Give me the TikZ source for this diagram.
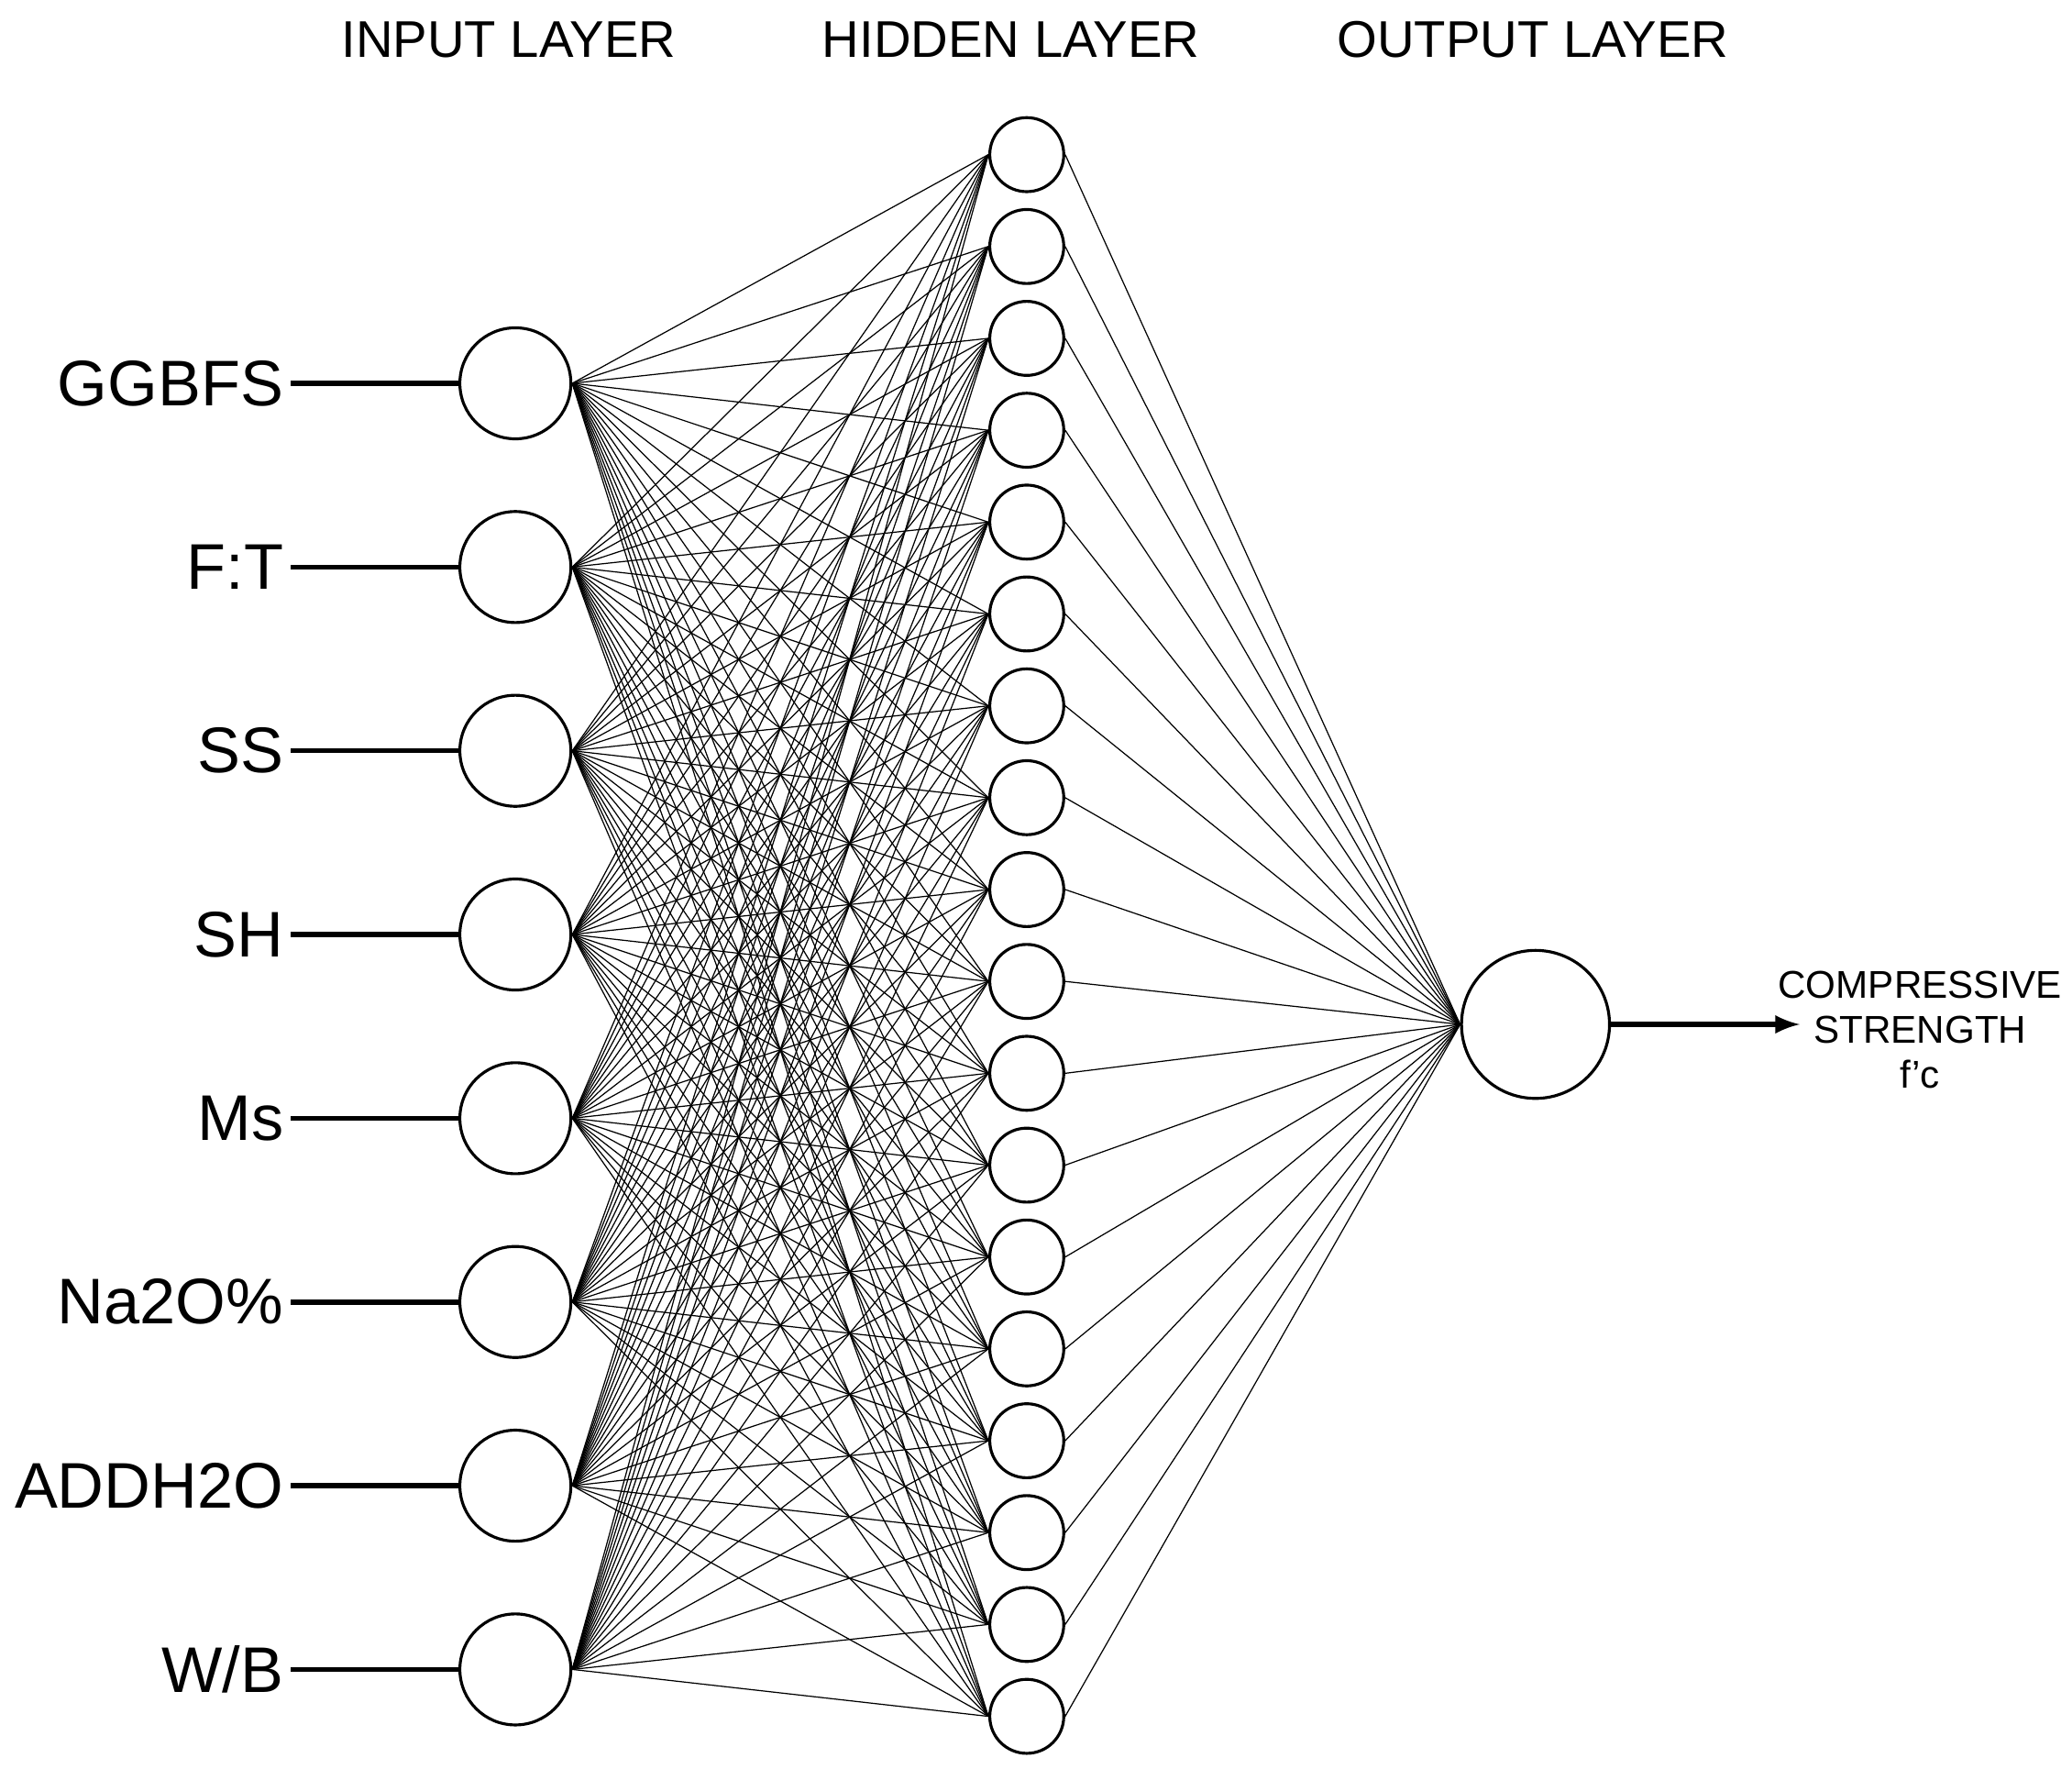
\documentclass[tikz,border=0pt]{standalone}
\usepackage{fontspec}
\setmainfont{Liberation Sans}
\begin{document}
\begin{tikzpicture}[x=0.01441cm,y=-0.01441cm,
  inn/.style={circle,draw,line width=0.9pt,minimum size={84*0.01441cm},inner sep=0},
  hid/.style={circle,draw,line width=0.9pt,minimum size={56*0.01441cm},inner sep=0},
  outn/.style={circle,draw,line width=0.9pt,minimum size={112*0.01441cm},inner sep=0},
  lab/.style={font=\fontsize{20}{22}\selectfont,anchor=east,inner sep=0},
  head/.style={font=\fontsize{16}{18}\selectfont},
  conn/.style={line width=0.35pt},
  feed/.style={line width=1.6pt}]
\useasboundingbox (0,0) rectangle (1568,1338);
\fill[white] (0,0) rectangle (1568,1338);
\node[head] at (385,30) {INPUT LAYER};
\node[head] at (765,30) {HIDDEN LAYER};
\node[head] at (1160,30) {OUTPUT LAYER};
\foreach \n [count=\i] in {GGBFS,F:T,SS,SH,Ms,Na2O\%,ADDH2O,W/B} {
  \pgfmathsetmacro{\yy}{290+(\i-1)*139}
  \node[inn] (i\i) at (390,\yy) {};
  \node[lab] (l\i) at (215,\yy) {\n};
  \draw[feed] (l\i.east) ++(5,0) coordinate (s\i) -- (i\i.west);
}
\foreach \j in {1,...,18} {
  \pgfmathsetmacro{\yy}{117+(\j-1)*69.5}
  \node[hid] (h\j) at (777,\yy) {};
}
\node[outn] (o) at (1162,775) {};
\foreach \i in {1,...,8} \foreach \j in {1,...,18}
  \draw[conn] (i\i.east) -- (h\j.west);
\foreach \j in {1,...,18} \draw[conn] (h\j.east) -- (o.west);
\coordinate (e) at (1362,775);
\draw[feed,-latex] (o.east) -- (e);
\node[font=\fontsize{12}{14}\selectfont,align=center,anchor=north] at (1453,726) {COMPRESSIVE\\STRENGTH\\f'c};
\end{tikzpicture}
\end{document}
